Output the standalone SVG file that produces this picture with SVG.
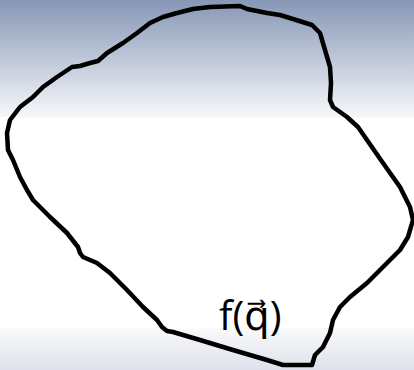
<svg xmlns="http://www.w3.org/2000/svg" width="414" height="370" viewBox="0 0 414 370">
<defs>
<linearGradient id="bg" x1="0" y1="0" x2="0" y2="370" gradientUnits="userSpaceOnUse">
<stop offset="0" stop-color="#8797b6"/>
<stop offset="0.316" stop-color="#f6f7fa"/>
<stop offset="0.318" stop-color="#ffffff"/>
<stop offset="0.885" stop-color="#ffffff"/>
<stop offset="0.89" stop-color="#f8f9fb"/>
<stop offset="1" stop-color="#dde1ea"/>
</linearGradient>
<style>
.blob{fill:none;stroke:#000;stroke-width:4.5;stroke-linejoin:round;stroke-linecap:round}
.lbl{font-family:"Open Sans","Noto Sans","DejaVu Sans",sans-serif;font-size:40px;fill:#000}
</style>
</defs>
<rect x="0" y="0" width="414" height="370" fill="url(#bg)"/>
<g id="region">
<path class="blob" d="M193,9 L210,7 L240,6 L247,9 L267,13 L280,15 L293,19 L312,25 L320,33 L325,50 L330,67 L331,83 L330,100 L333,107 L347,117 L358,127 L367,140 L383,163 L400,187 L410,207 L413,220 L408,237 L400,250 L383,267 L367,283 L350,297 L340,307 L333,320 L330,333 L323,347 L315,355 L312,365 L283,365 L267,360 L233,350 L200,340 L173,332 L167,331 L162,327 L157,320 L143,307 L127,290 L110,273 L97,263 L83,257 L80,253 L78,247 L67,233 L50,217 L33,200 L27,190 L20,177 L13,160 L8,150 L7,133 L10,120 L20,107 L33,97 L43,87 L57,77 L72,67 L80,66 L90,63 L98,61 L107,53 L123,43 L137,33 L150,23 L163,17 L177,13 Z"/>
</g>
<g id="label">
<text class="lbl" x="219" y="330">f(q&#x20D7;)</text>
</g>
</svg>
